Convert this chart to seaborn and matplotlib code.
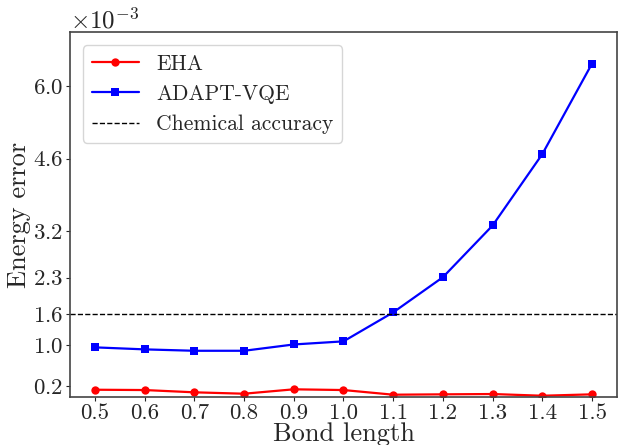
import numpy as np
import pandas as pd
import matplotlib
matplotlib.use("Agg")
import matplotlib.pyplot as plt
import seaborn as sns
from matplotlib.ticker import FixedLocator, ScalarFormatter

bond_length = [0.5, 0.6, 0.7, 0.8, 0.9, 1.0, 1.1, 1.2, 1.3, 1.4, 1.5]
eha = [0.135, 0.129, 0.085, 0.058, 0.143, 0.129, 0.039, 0.046, 0.052, 0.019, 0.046]
adapt_vqe = [0.954, 0.915, 0.888, 0.888, 1.01, 1.07, 1.63, 2.31, 3.31, 4.69, 6.44]
chem_acc = 1.6
ytick_vals = [0.2, 1.0, 1.6, 2.3, 3.2, 4.6, 6.0]
xtick_vals = bond_length

sns.set_theme(style="ticks")
plt.rcParams['font.family'] = 'serif'
plt.rcParams['font.serif'] = ['cmr10', 'DejaVu Serif']
plt.rcParams['mathtext.fontset'] = 'cm'
plt.rcParams['axes.formatter.use_mathtext'] = True
plt.rcParams['axes.unicode_minus'] = False

df = pd.DataFrame({
    "Bond length": bond_length * 2,
    "Energy error": [v * 1e-3 for v in eha] + [v * 1e-3 for v in adapt_vqe],
    "Method": ["EHA"] * len(eha) + ["ADAPT-VQE"] * len(adapt_vqe),
})

fig = plt.figure(figsize=(6.2, 4.45), dpi=100)
ax = fig.add_axes([0.113, 0.1085, 0.882, 0.8185])

sns.lineplot(data=df[df.Method == "EHA"], x="Bond length", y="Energy error",
             color="red", marker="o", markersize=6, markeredgewidth=0,
             linewidth=1.6, label="EHA", ax=ax)
sns.lineplot(data=df[df.Method == "ADAPT-VQE"], x="Bond length", y="Energy error",
             color="blue", marker="s", markersize=6, markeredgewidth=0,
             linewidth=1.6, label="ADAPT-VQE", ax=ax)
ax.axhline(chem_acc * 1e-3, color="black", linestyle="--", linewidth=1,
           label="Chemical accuracy")

ax.set_xlim(0.45, 1.55)
ax.set_ylim(0, 7.04e-3)
ax.xaxis.set_major_locator(FixedLocator(xtick_vals))
ax.set_xticklabels([f"{v:.1f}" for v in xtick_vals])
ax.yaxis.set_major_locator(FixedLocator([v * 1e-3 for v in ytick_vals]))
fmt = ScalarFormatter(useMathText=True)
fmt.set_powerlimits((-2, 2))
ax.yaxis.set_major_formatter(fmt)
ax.yaxis.get_offset_text().set_fontsize(18)

ax.tick_params(axis="both", labelsize=16.5, length=3, width=0.8, pad=2)
ax.set_xlabel("Bond length", fontsize=19, labelpad=-1)
ax.set_ylabel("Energy error", fontsize=19, labelpad=1)
for s in ax.spines.values():
    s.set_color("#444444")
    s.set_linewidth(1.2)
ax.spines["top"].set_visible(True)
ax.spines["right"].set_visible(True)

leg = ax.legend(loc="upper left", fontsize=15.5, frameon=True, fancybox=True,
                handlelength=2.2, borderaxespad=0.6)
leg.get_frame().set_edgecolor("#cccccc")

fig.savefig("out.png", dpi=100)
